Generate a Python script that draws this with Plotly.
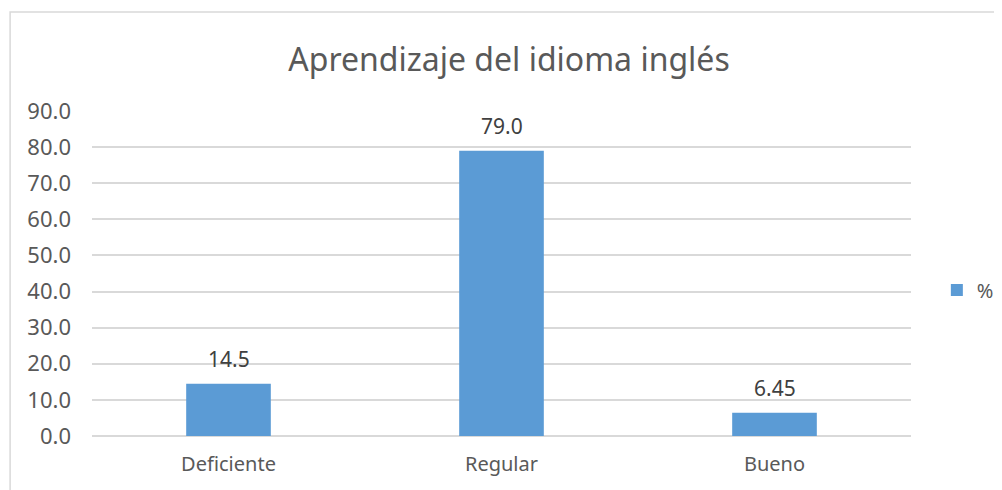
import plotly.graph_objects as go

categories = ["Deficiente", "Regular", "Bueno"]
values = [14.5, 79.0, 6.45]
value_labels = ["14.5", "79.0", "6.45"]
series_name = "%"
title_text = "Aprendizaje del idioma inglés"

txt = "#595959"
bar_color = "#5B9BD5"
grid = "#D9D9D9"
font_family = "'Noto Sans', 'Open Sans', sans-serif"

fig = go.Figure()
fig.add_trace(go.Bar(
    x=categories, y=values, name=series_name,
    marker=dict(color=bar_color, line=dict(width=0)),
    width=0.31,
))

# data labels above bars
for c, v, lab in zip(categories, values, value_labels):
    fig.add_annotation(x=c, y=v, text=lab, showarrow=False, yanchor="bottom",
                       yshift=9, font=dict(size=21, color="#404040"))

fig.update_layout(
    width=1002, height=490,
    margin=dict(l=84, r=99, t=103, b=62, autoexpand=False),
    paper_bgcolor="white", plot_bgcolor="white",
    font=dict(family=font_family, color=txt, size=20),
    title=dict(text=title_text, x=0.5, xanchor="center", y=0.894, yanchor="middle",
               font=dict(size=32, color=txt)),
    showlegend=True,
    legend=dict(xref="container", yref="container", x=0.927, y=0.4245,
                xanchor="left", yanchor="middle", font=dict(size=20, color=txt)),
    bargap=0.69,
    shapes=[dict(type="rect", xref="paper", yref="paper",
                 x0=-0.1, x1=1.13, y0=-0.2, y1=1.3046,
                 line=dict(color="#D9D9D9", width=1.5), layer="below")],
)
fig.update_yaxes(range=[0, 90], dtick=10, tickformat=".1f", showgrid=True,
                 gridcolor=grid, gridwidth=1.5, zeroline=True, zerolinecolor=grid,
                 zerolinewidth=1.5, showline=False, ticks="", ticklabelstandoff=20,
                 tickfont=dict(size=22))
fig.update_xaxes(showline=False, ticks="", ticklabelstandoff=14, tickfont=dict(size=20))

fig.write_html("out.html")
